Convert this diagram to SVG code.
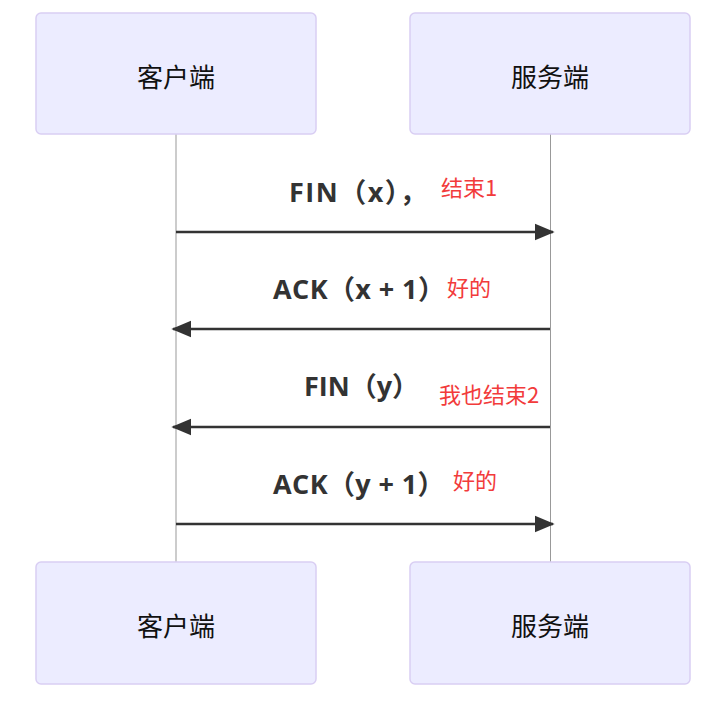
<svg xmlns="http://www.w3.org/2000/svg" width="720" height="701" viewBox="0 0 720 701">
<style>
.actor{fill:#ECECFF;stroke:#D9CEF3;stroke-width:1.5}
.aname{font-family:"Noto Sans CJK SC",sans-serif;font-size:26px;fill:#111;text-anchor:middle;dominant-baseline:central}
.life{stroke:#999;stroke-width:1}
.msg{stroke:#333;stroke-width:2.5;fill:none}
.lbl{font-family:"Open Sans","Noto Sans CJK SC",sans-serif;font-weight:bold;font-size:27px;fill:#333}
.red{font-family:"Noto Sans CJK SC",sans-serif;font-size:22px;fill:#F23B3B}
</style>
<defs>
<marker id="ah" viewBox="0 0 12 10" refX="11" refY="5" markerWidth="20" markerHeight="18" markerUnits="userSpaceOnUse" orient="auto"><path d="M0,0 L12,5 L0,10 z" fill="#333"/></marker>
</defs>
<g id="lifelines">
<line class="life" x1="176" y1="134" x2="176" y2="562"/>
<line class="life" x1="550.5" y1="134" x2="550.5" y2="562"/>
</g>
<g id="client-top"><rect class="actor" x="36" y="13" width="280" height="121" rx="5"/><text class="aname" x="176" y="75">客户端</text></g>
<g id="server-top"><rect class="actor" x="410" y="13" width="280" height="121" rx="5"/><text class="aname" x="550" y="75">服务端</text></g>
<g id="client-bottom"><rect class="actor" x="36" y="562" width="280" height="122" rx="5"/><text class="aname" x="176" y="624">客户端</text></g>
<g id="server-bottom"><rect class="actor" x="410" y="562" width="280" height="122" rx="5"/><text class="aname" x="550" y="624">服务端</text></g>
<g id="connectors">
<line class="msg" x1="176" y1="232" x2="553" y2="232" marker-end="url(#ah)"/>
<line class="msg" x1="550" y1="329" x2="173" y2="329" marker-end="url(#ah)"/>
<line class="msg" x1="550" y1="427" x2="173" y2="427" marker-end="url(#ah)"/>
<line class="msg" x1="176" y1="524" x2="553" y2="524" marker-end="url(#ah)"/>
</g>
<g id="labels">
<text class="lbl" x="289" y="202" letter-spacing="1.5">FIN（x），</text>
<text class="red" x="441" y="196">结束1</text>
<text class="lbl" x="273" y="299" letter-spacing="0.4">ACK（x + 1）</text>
<text class="red" x="447" y="296">好的</text>
<text class="lbl" x="304" y="396">FIN（y）</text>
<text class="red" x="439" y="403">我也结束2</text>
<text class="lbl" x="273" y="494" letter-spacing="0.4">ACK（y + 1）</text>
<text class="red" x="453" y="489">好的</text>
</g>
</svg>
